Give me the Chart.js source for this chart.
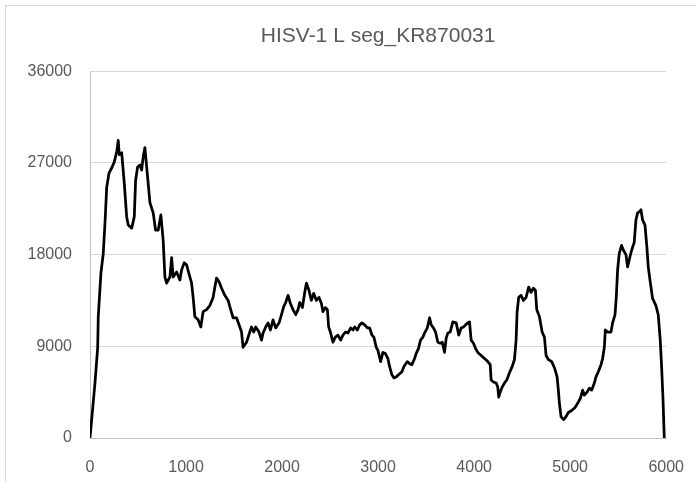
<!DOCTYPE html>
<html>
<head>
<meta charset="utf-8">
<script src="https://cdn.jsdelivr.net/npm/chart.js@4/dist/chart.umd.min.js"></script>
<style>
html, body { margin: 0; padding: 0; background: #fff; }
</style>
</head>
<body>
<canvas id="coverageChart" width="696" height="482"></canvas>
<script>
// genome position (nt)
const position = [
    0, 52, 80, 86, 114, 138, 156, 174, 198, 226, 253, 278, 294, 305, 330, 357, 382, 398, 434, 461,
    475, 496, 520, 538, 554, 572, 590, 624, 658, 683, 710, 738, 762, 780, 798, 832, 850, 866, 902, 936,
    954, 981, 1006, 1040, 1058, 1074, 1092, 1126, 1154, 1178,
    1214, 1248, 1282, 1300, 1318, 1345, 1370, 1404, 1438, 1474, 1490, 1526, 1560, 1578, 1594, 1630,
    1664, 1682, 1705, 1726, 1760, 1786, 1802, 1830, 1854, 1879, 1906, 1934, 1969, 1994, 2017, 2038,
    2062, 2087, 2114, 2142, 2166, 2184, 2212, 2236, 2254, 2280, 2305, 2329, 2357, 2385,
    2410, 2426, 2451, 2472, 2485, 2506, 2530, 2555, 2582, 2610, 2634, 2659, 2686, 2714, 2738, 2756,
    2784, 2808, 2832, 2860, 2888, 2912, 2936, 2956, 2981, 2998, 3026, 3050, 3075, 3102, 3120, 3144,
    3164, 3189, 3224, 3248, 3268, 3304, 3328, 3352, 3380, 3397, 3421, 3442, 3466, 3484, 3512, 3536,
    3553, 3577,
    3598, 3622, 3647, 3668, 3692, 3709, 3726, 3751, 3778, 3813, 3840, 3865, 3889, 3910, 3934, 3952,
    3969, 3993, 4014, 4038, 4073, 4108, 4142, 4167, 4177, 4201, 4229, 4246, 4256, 4271, 4292, 4316,
    4340, 4368, 4396, 4420, 4437, 4447, 4464, 4489, 4513, 4541, 4568, 4593, 4617, 4638, 4652, 4680,
    4708, 4732,
    4749, 4773, 4808, 4836, 4864, 4877, 4888, 4905, 4932, 4957, 4981, 5016, 5051, 5078, 5106, 5130,
    5148, 5176, 5200, 5224, 5252, 5269, 5293, 5321, 5338, 5356, 5366, 5390, 5425, 5442, 5467, 5480,
    5494, 5511, 5535, 5556, 5581, 5598, 5615, 5639, 5667, 5685, 5702, 5719, 5737, 5754, 5779, 5799,
    5813, 5834, 5858, 5893, 5917, 5938, 5952, 5966, 5980
];

// read depth at each position
const depth = [
    0, 5400, 8900, 11900, 16200, 18100, 21100, 24600, 26000, 26500, 27100, 28100, 29200, 27800, 28000, 25000, 21700, 20900, 20600, 21700,
    25300, 26600, 26800, 26300, 27600, 28500, 26600, 23100, 22100, 20400, 20400, 21900, 19400, 15800, 15200, 15800, 17700, 15800, 16300, 15500,
    16500, 17200, 17000, 15800, 15200, 13800, 11900, 11600, 10900, 12400,
    12600, 13000, 13800, 14800, 15700, 15300, 14700, 14000, 13500, 12300, 11800, 11800, 10900, 10400, 8900, 9400,
    10400, 10900, 10400, 10900, 10400, 9600, 10300, 10900, 11300, 10600, 11600, 10800, 11300, 12100, 12900, 13300,
    14000, 13200, 12600, 12100, 12600, 13300, 12800, 14300, 15200, 14500, 13500, 14200, 13500, 13800,
    13200, 12400, 12800, 12600, 10900, 10300, 9400, 9900, 10100, 9600, 10100, 10400, 10300, 10800, 10600, 10900,
    10600, 11100, 11300, 11100, 10800, 10800, 10100, 9900, 8900, 8600, 7500, 8400, 8300, 7800, 7000, 6200,
    5900, 6000, 6300, 6500, 7000, 7500, 7300, 7200, 7800, 8300, 8800, 9600, 9900, 10300, 10800, 11800,
    11100, 10800,
    10400, 9400, 9300, 9400, 8400, 9800, 10300, 10400, 11400, 11300, 10100, 10800, 10900, 11100, 11300, 11400,
    9600, 9300, 8800, 8400, 8100, 7800, 7500, 7200, 5700, 5500, 5400, 5000, 4000, 4500, 5000, 5400,
    5700, 6400, 7000, 7700, 9600, 12300, 13800, 14000, 13500, 13800, 14800, 14300, 14700, 14500, 12600, 11900,
    10400, 9900,
    8100, 7700, 7500, 6900, 6000, 4700, 3400, 2100, 1800, 2100, 2500, 2700, 3000, 3400, 3900, 4700,
    4200, 4500, 4900, 4700, 5400, 6000, 6500, 7200, 7800, 8900, 10600, 10400, 10400, 11300, 12100, 13800,
    16500, 18100, 18900, 18400, 18000, 16800, 17500, 18400, 19200, 21400, 22100, 22200, 22400, 21400, 20900, 18700,
    16800, 15300, 13700, 13000, 12100, 9600, 7000, 4000, 0
];

const xTicks = [0, 1000, 2000, 3000, 4000, 5000, 6000];
const yTicks = [0, 9000, 18000, 27000, 36000];

// light frame round the whole chart, like the spreadsheet chart box
const frame = {
    id: 'frame',
    beforeDraw(chart) {
        const ctx = chart.ctx;
        ctx.save();
        ctx.fillStyle = '#ffffff';
        ctx.fillRect(0, 0, chart.width, chart.height);
        ctx.strokeStyle = '#d9d9d9';
        ctx.lineWidth = 1;
        ctx.strokeRect(5.5, 5.5, chart.width, chart.height);
        ctx.restore();
    }
};

const points = position.map((p, i) => ({ x: p, y: depth[i] }));
const ctx = document.getElementById('coverageChart').getContext('2d');

new Chart(ctx, {
    type: 'scatter',
    data: {
        datasets: [{
            label: 'HISV-1 L seg_KR870031',
            data: points,
            showLine: true,
            borderColor: '#000000',
            borderWidth: 2.75,
            borderJoinStyle: 'round',
            borderCapStyle: 'round',
            pointRadius: 0,
            tension: 0
        }]
    },
    options: {
        responsive: false,
        devicePixelRatio: 1,
        animation: false,
        layout: {
            padding: { left: 0, right: 29, top: 0, bottom: 0 }
        },
        plugins: {
            legend: { display: false },
            tooltip: { enabled: false },
            title: {
                display: true,
                text: 'HISV-1 L seg_KR870031',
                color: '#595959',
                fullSize: false,
                font: { family: 'Liberation Sans', size: 21, weight: 'normal' },
                padding: { top: 24, bottom: 22 }
            }
        },
        scales: {
            x: {
                type: 'linear',
                min: 0,
                max: 6000,
                afterBuildTicks: s => { s.ticks = xTicks.map(v => ({ value: v })); },
                afterFit: s => { s.height = 44; },
                grid: { display: false },
                border: { display: true, color: '#bfbfbf', width: 1 },
                ticks: {
                    color: '#595959',
                    padding: 12,
                    maxRotation: 0,
                    font: { family: 'Liberation Sans', size: 16 },
                    callback: v => String(v)
                }
            },
            y: {
                type: 'linear',
                min: 0,
                max: 36000,
                afterBuildTicks: s => { s.ticks = yTicks.map(v => ({ value: v })); },
                afterFit: s => { s.width = 90; },
                grid: { color: '#d9d9d9', drawTicks: false },
                border: { display: true, color: '#bfbfbf', width: 1 },
                ticks: {
                    color: '#595959',
                    padding: 18,
                    font: { family: 'Liberation Sans', size: 16 },
                    callback: v => String(v)
                }
            }
        }
    },
    plugins: [frame]
});
</script>
</body>
</html>
